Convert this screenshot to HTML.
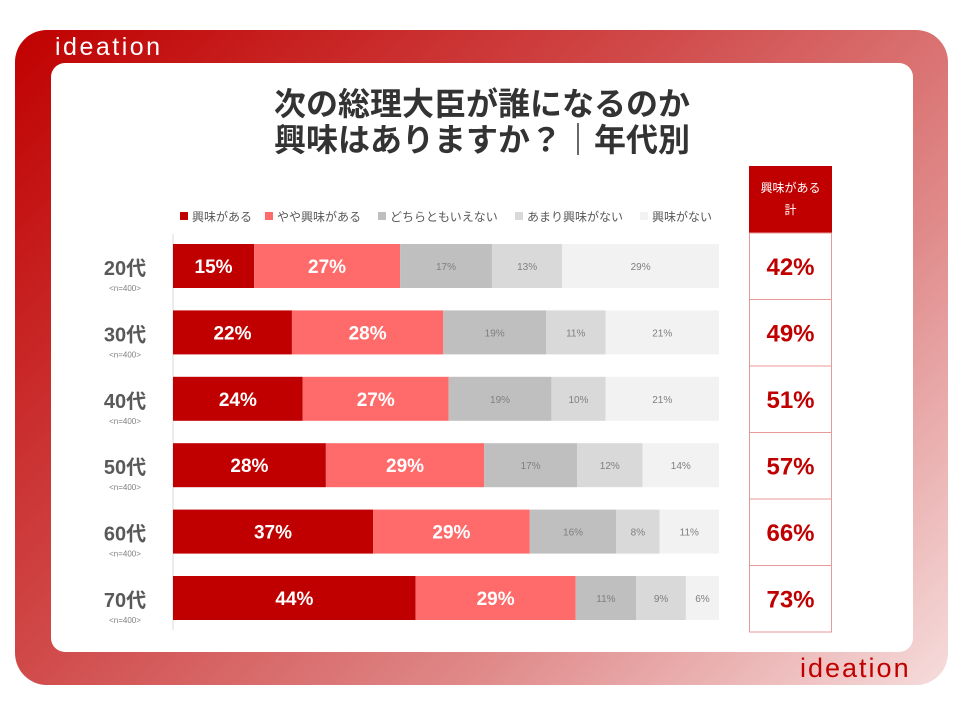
<!DOCTYPE html>
<html><head><meta charset="utf-8"><style>
body{margin:0;width:960px;height:720px;background:#fff;font-family:"Liberation Sans","Noto Sans CJK JP",sans-serif;position:relative;overflow:hidden}
.frame{position:absolute;left:15px;top:30px;width:933px;height:655px;border-radius:32px;background:linear-gradient(135deg,#c00000 0%,#d04848 40%,#e08a8a 70%,#f6dcdc 100%)}
.inner{position:absolute;left:51px;top:63px;width:862px;height:589px;border-radius:14px;background:#fff}
.logo1{position:absolute;left:55px;top:33px;color:#fff;font-size:25px;letter-spacing:2.5px}
.logo2{position:absolute;left:800px;top:653px;color:#c00000;font-size:27px;letter-spacing:2px}
.title{position:absolute;left:0;width:964px;top:86px;text-align:center;font-size:32px;font-weight:bold;color:#333;line-height:36px}
</style></head><body>
<div class="frame"></div>
<div class="inner"></div>
<div class="logo1">ideation</div>
<div class="logo2">ideation</div>
<div class="title">次の総理大臣が誰になるのか<br>興味はありますか？｜年代別</div>
<svg id="c" width="960" height="720" style="position:absolute;left:0;top:0"></svg>
<script>
const categories=["20代","30代","40代","50代","60代","70代"];
const s1=[15,22,24,28,37,44];
const s2=[27,28,27,29,29,29];
const s3=[17,19,19,17,16,11];
const s4=[13,11,10,12,8,9];
const s5=[29,21,21,14,11,6];
const totals=[42,49,51,57,66,73];
const seriesNames=["興味がある","やや興味がある","どちらともいえない","あまり興味がない","興味がない"];
const colors=["#c00000","#ff6b6b","#bfbfbf","#d9d9d9","#f2f2f2"];
const textCol=["#fff","#fff","#7f7f7f","#7f7f7f","#7f7f7f"];
const NS="http://www.w3.org/2000/svg";
const svg=document.getElementById('c');
function mk(t,a,txt){const e=document.createElementNS(NS,t);for(const k in a)e.setAttribute(k,a[k]);if(txt!==undefined)e.textContent=txt;svg.appendChild(e);return e;}
const x0=173,W=546,rowY=i=>244+i*66.4,bh=44;
const xs=(v,sum)=>v/sum*W;
let ax=mk('line',{x1:173,y1:234,x2:173,y2:630,stroke:'#d9d9d9','stroke-width':1});


const legX=[180,265,378,515,640];
seriesNames.forEach((n,j)=>{
 let r=mk('rect',{x:legX[j],y:212,width:8,height:8,fill:colors[j]});
 
 
 let t=mk('text',{x:legX[j]+12,y:221,'font-size':12,fill:'#595959'},n);
 
 
});
const series=[s1,s2,s3,s4,s5];
categories.forEach((c,i)=>{
 const y=rowY(i);
 const sum=series.reduce((a,s)=>a+s[i],0);
 let l=mk('text',{x:125,y:y+31,'font-size':20,'font-weight':'bold',fill:'#595959','text-anchor':'middle'},c);
 
 
 let n=mk('text',{x:125,y:y+47,'font-size':8,fill:'#7f7f7f','text-anchor':'middle'},'<n=400>');
 
 
 let x=x0;
 series.forEach((s,j)=>{
  const w=xs(s[i],sum);
  let r=mk('rect',{x:x,y:y,width:w,height:bh,fill:colors[j]});
  
  
  const big=j<2;
  let t=mk('text',{x:x+w/2,y:y+bh/2+(big?7:4),'font-size':big?19:10,'font-weight':big?'bold':'normal',fill:textCol[j],'text-anchor':'middle'},s[i]+'%');
  
  
  x+=w;
 });
});
let h=mk('rect',{x:749,y:166,width:83,height:67,fill:'#c00000'});


let h1=mk('text',{x:790.5,y:192,'font-size':12,fill:'#fff','text-anchor':'middle'},'興味がある');


let h2=mk('text',{x:790.5,y:214,'font-size':12,fill:'#fff','text-anchor':'middle'},'計');


totals.forEach((v,i)=>{
 const y=233+i*66.5;
 let r=mk('rect',{x:749.5,y:y,width:82,height:66.5,fill:'#fff',stroke:'#e89a9a','stroke-width':1});
 
 
 let t=mk('text',{x:790.5,y:y+42,'font-size':24,'font-weight':'bold',fill:'#c00000','text-anchor':'middle'},v+'%');
 
 
});
</script>
</body></html>
